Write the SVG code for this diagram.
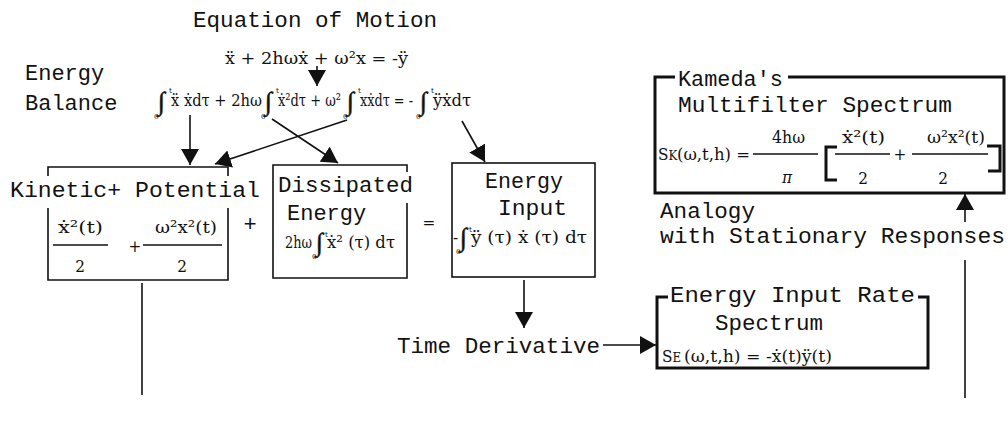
<svg xmlns="http://www.w3.org/2000/svg" width="1008" height="422" viewBox="0 0 1008 422">
<style>
.t{font-family:"Liberation Mono","DejaVu Sans Mono",monospace;font-size:22px;fill:#111}
.m{font-family:"DejaVu Serif Condensed","Liberation Serif",serif;font-size:17px;fill:#111}
.i{font-family:"Liberation Serif","DejaVu Serif",serif;font-size:26px;stroke:#111;stroke-width:0.5}
.s{font-size:8px}
.ln{fill:none;stroke:#111;stroke-width:1.6}
.bx{fill:none;stroke:#111;stroke-width:1.6}
.bk{fill:none;stroke:#111;stroke-width:3}
</style>
<defs>
<marker id="ah" viewBox="0 0 16 18" refX="16" refY="9" markerWidth="16" markerHeight="18" markerUnits="userSpaceOnUse" orient="auto">
<path d="M0,0 L16,9 L0,18 z" fill="#111"/>
</marker>
</defs>

<g id="equation-of-motion">
<text class="t" x="193" y="27" textLength="244" lengthAdjust="spacingAndGlyphs">Equation of Motion</text>
<text class="m" x="225" y="64" font-size="19" textLength="183" lengthAdjust="spacingAndGlyphs">ẍ + 2hωẋ + ω²x = -ÿ</text>
</g>

<g id="energy-balance">
<text class="t" x="25" y="80">Energy</text>
<text class="t" x="25" y="110">Balance</text>
<text class="m" font-size="18"><tspan class="i" x="158" y="110">∫</tspan><tspan class="s" x="169" y="93">t</tspan><tspan class="s" x="154" y="119">0</tspan><tspan x="171" y="106" textLength="91" lengthAdjust="spacingAndGlyphs">ẍ ẋdτ + 2hω</tspan><tspan class="i" x="265" y="110">∫</tspan><tspan class="s" x="276" y="93">t</tspan><tspan class="s" x="261" y="119">0</tspan><tspan x="278" y="106" textLength="63" lengthAdjust="spacingAndGlyphs">ẋ²dτ + ω²</tspan><tspan class="i" x="347" y="110">∫</tspan><tspan class="s" x="358" y="93">t</tspan><tspan class="s" x="343" y="119">0</tspan><tspan x="360" y="106" textLength="53" lengthAdjust="spacingAndGlyphs">xẋdτ = -</tspan><tspan class="i" x="420" y="110">∫</tspan><tspan class="s" x="431" y="93">t</tspan><tspan class="s" x="416" y="119">0</tspan><tspan x="433" y="106" textLength="38" lengthAdjust="spacingAndGlyphs">ÿẋdτ</tspan></text>
</g>

<g id="kinetic-potential">
<path class="bx" d="M48,176 V167 H228 V176 M48,208 V280 H228 V208"/>
<text class="t" x="10" y="197" textLength="250" lengthAdjust="spacingAndGlyphs">Kinetic+ Potential</text>
<text class="m" x="58" y="233" textLength="45" lengthAdjust="spacingAndGlyphs">ẋ²(t)</text>
<line class="ln" x1="53" y1="245" x2="108" y2="245"/>
<text class="m" x="80" y="272" text-anchor="middle">2</text>
<text class="m" x="135" y="252" text-anchor="middle">+</text>
<text class="m" x="155" y="233" textLength="62" lengthAdjust="spacingAndGlyphs">ω²x²(t)</text>
<line class="ln" x1="143" y1="245" x2="222" y2="245"/>
<text class="m" x="182" y="272" text-anchor="middle">2</text>
</g>

<g id="plus-sign">
<text class="t" x="250" y="231" text-anchor="middle">+</text>
</g>

<g id="dissipated-energy">
<path class="bx" d="M407,172 V165 H273 V278 H407 V203"/>
<text class="t" x="278" y="192" textLength="135" lengthAdjust="spacingAndGlyphs">Dissipated</text>
<text class="t" x="287" y="220">Energy</text>
<text class="m"><tspan x="285" y="248" textLength="27" lengthAdjust="spacingAndGlyphs">2hω</tspan><tspan class="i" font-size="21" x="316" y="251">∫</tspan><tspan class="s" x="325" y="237">t</tspan><tspan class="s" x="312" y="259">0</tspan><tspan x="327" y="248" textLength="68" lengthAdjust="spacingAndGlyphs">ẋ² (τ) dτ</tspan></text>
</g>

<g id="equals-sign">
<text class="m" x="429" y="228" font-size="24" text-anchor="middle">=</text>
</g>

<g id="energy-input">
<rect class="bx" x="452" y="163" width="143" height="114"/>
<text class="t" x="485" y="188" textLength="78" lengthAdjust="spacingAndGlyphs">Energy</text>
<text class="t" x="498" y="215" textLength="69" lengthAdjust="spacingAndGlyphs">Input</text>
<text class="m"><tspan x="453" y="243">-</tspan><tspan class="i" font-size="21" x="460" y="246">∫</tspan><tspan class="s" x="469" y="232">t</tspan><tspan class="s" x="456" y="254">0</tspan><tspan x="471" y="243" textLength="116" lengthAdjust="spacingAndGlyphs">ÿ (τ) ẋ (τ) dτ</tspan></text>
</g>

<g id="time-derivative">
<text class="t" x="397" y="353" textLength="203" lengthAdjust="spacingAndGlyphs">Time Derivative</text>
</g>

<g id="energy-input-rate-spectrum">
<path class="bk" d="M668,297 H657 V368 H928 V297 H918"/>
<text class="t" x="670" y="302" textLength="245" lengthAdjust="spacingAndGlyphs">Energy Input Rate</text>
<text class="t" x="715" y="330" textLength="108" lengthAdjust="spacingAndGlyphs">Spectrum</text>
<text class="m" font-size="21" x="662" y="362">S<tspan font-size="13">E</tspan><tspan font-size="17" x="684" textLength="148" lengthAdjust="spacingAndGlyphs">(ω,t,h) = -ẋ(t)ÿ(t)</tspan></text>
</g>

<g id="kameda-spectrum">
<path class="bk" d="M675,77 H655 V193 H1004 V77 H788"/>
<text class="t" x="678" y="86" textLength="105" lengthAdjust="spacingAndGlyphs">Kameda's</text>
<text class="t" x="678" y="112" textLength="274" lengthAdjust="spacingAndGlyphs">Multifilter Spectrum</text>
<text class="m" font-size="21" x="658" y="160">S<tspan font-size="13">K</tspan><tspan font-size="17" x="677" textLength="73" lengthAdjust="spacingAndGlyphs">(ω,t,h) =</tspan></text>
<text class="m" x="772" y="143" textLength="33" lengthAdjust="spacingAndGlyphs">4hω</text>
<line class="ln" x1="753" y1="154" x2="818" y2="154"/>
<text class="m" x="787" y="183" text-anchor="middle" font-style="italic">π</text>
<path class="bk" d="M837,147 H826 V180 H837"/>
<text class="m" x="842" y="143" textLength="43" lengthAdjust="spacingAndGlyphs">ẋ²(t)</text>
<line class="ln" x1="835" y1="154" x2="890" y2="154"/>
<text class="m" x="863" y="184" text-anchor="middle">2</text>
<text class="m" x="900" y="160" text-anchor="middle">+</text>
<text class="m" x="927" y="143" textLength="58" lengthAdjust="spacingAndGlyphs">ω²x²(t)</text>
<line class="ln" x1="912" y1="154" x2="988" y2="154"/>
<text class="m" x="943" y="184" text-anchor="middle">2</text>
<path class="bk" d="M987,146 H1000 V171 H988"/>
</g>

<g id="analogy">
<text class="t" x="660" y="218" textLength="95" lengthAdjust="spacingAndGlyphs">Analogy</text>
<text class="t" x="660" y="243" textLength="345" lengthAdjust="spacingAndGlyphs">with Stationary Responses</text>
</g>

<g id="connectors">
<line class="ln" x1="317" y1="66" x2="317" y2="86" marker-end="url(#ah)"/>
<line class="ln" x1="190" y1="115" x2="190" y2="165" marker-end="url(#ah)"/>
<line class="ln" x1="347" y1="120" x2="215" y2="164" marker-end="url(#ah)"/>
<line class="ln" x1="272" y1="119" x2="338" y2="163" marker-end="url(#ah)"/>
<line class="ln" x1="462" y1="121" x2="485" y2="162" marker-end="url(#ah)"/>
<line class="ln" x1="524" y1="280" x2="524" y2="328" marker-end="url(#ah)"/>
<line class="ln" x1="603" y1="345" x2="656" y2="345" marker-end="url(#ah)"/>
<line class="ln" x1="965" y1="222" x2="965" y2="194" marker-end="url(#ah)"/>
<line class="ln" x1="965" y1="260" x2="965" y2="398"/>
<line class="ln" x1="142" y1="283" x2="142" y2="395"/>
</g>
</svg>
